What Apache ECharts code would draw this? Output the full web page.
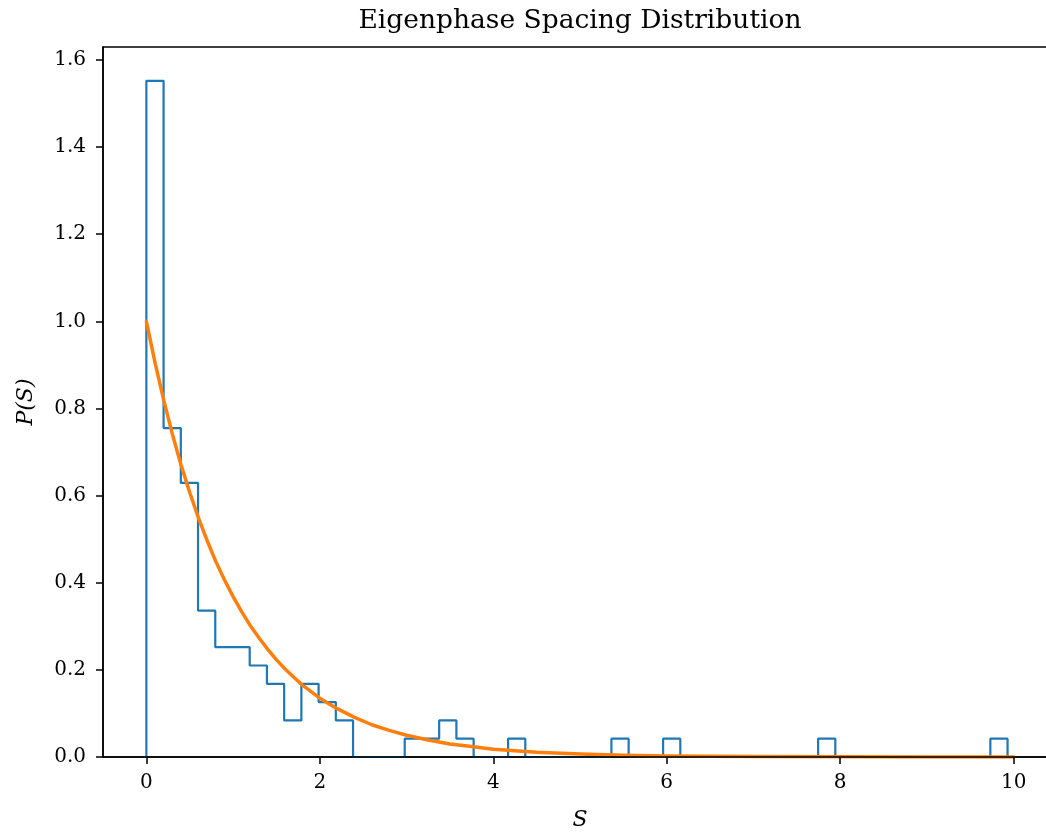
<!DOCTYPE html>
<html>
<head>
<meta charset="utf-8">
<script src="https://cdn.jsdelivr.net/npm/echarts@6/dist/echarts.min.js"></script>
<style>
html,body{margin:0;padding:0;background:#fff;overflow:hidden;}
#chart{width:1046px;height:833px;}
</style>
</head>
<body>
<div id="chart"></div>
<script>
// Histogram bin edges (S) and densities P(S)
const binEdges = [0, 0.1986, 0.3972, 0.5958, 0.7944, 0.993, 1.1916, 1.3902, 1.5888, 1.7874,
  1.986, 2.1846, 2.3832, 2.5818, 2.7804, 2.979, 3.1776, 3.3762, 3.5748, 3.7734,
  3.972, 4.1706, 4.3692, 4.5678, 4.7664, 4.965, 5.1636, 5.3622, 5.5608, 5.7594,
  5.958, 6.1566, 6.3552, 6.5538, 6.7524, 6.951, 7.1496, 7.3482, 7.5468, 7.7454,
  7.944, 8.1426, 8.3412, 8.5398, 8.7384, 8.937, 9.1356, 9.3342, 9.5328, 9.7314, 9.93];
const histDensity = [1.552, 0.755, 0.629, 0.336, 0.252, 0.252, 0.210, 0.168, 0.084, 0.168,
  0.126, 0.084, 0, 0, 0, 0.042, 0.042, 0.084, 0.042, 0,
  0, 0.042, 0, 0, 0, 0, 0, 0.042, 0, 0,
  0.042, 0, 0, 0, 0, 0, 0, 0, 0, 0.042,
  0, 0, 0, 0, 0, 0, 0, 0, 0, 0.042];
// Poisson reference curve samples
const curveS = [0, 0.1, 0.2, 0.3, 0.4, 0.5, 0.6, 0.7, 0.8, 0.9, 1.0, 1.1, 1.2, 1.3, 1.4, 1.5, 1.6, 1.7, 1.8, 1.9,
  2.0, 2.2, 2.4, 2.6, 2.8, 3.0, 3.25, 3.5, 3.75, 4.0, 4.5, 5.0, 5.5, 6.0, 7.0, 8.0, 9.0, 10.0];
const curveP = [1.000, 0.905, 0.819, 0.741, 0.670, 0.607, 0.549, 0.497, 0.449, 0.407, 0.368, 0.333, 0.301, 0.273, 0.247, 0.223, 0.202, 0.183, 0.165, 0.150,
  0.135, 0.111, 0.091, 0.074, 0.061, 0.050, 0.039, 0.030, 0.024, 0.018, 0.011, 0.007, 0.004, 0.0025, 0.0009, 0.0003, 0.0001, 0.00005];
// Tick values
const xTicks = [0, 2, 4, 6, 8, 10];
const yTicks = [0, 0.2, 0.4, 0.6, 0.8, 1.0, 1.2, 1.4, 1.6];

const stepPts = [[binEdges[0], 0]];
for (let i = 0; i < histDensity.length; i++) {
  stepPts.push([binEdges[i], histDensity[i]]);
  stepPts.push([binEdges[i + 1], histDensity[i]]);
}
stepPts.push([binEdges[binEdges.length - 1], 0]);
const curvePts = curveS.map((s, i) => [s, curveP[i]]);

const FONT = 'DejaVu Serif';
const chart = echarts.init(document.getElementById('chart'));
chart.setOption({
  animation: false,
  backgroundColor: '#fff',
  graphic: [{
    type: 'text', x: 580, y: 8,
    style: { text: 'Eigenphase Spacing Distribution', fill: '#000', font: '26.5px "DejaVu Serif"', textAlign: 'center', textVerticalAlign: 'top' }
  }],
  grid: { left: 103, top: 47, width: 954, bottom: 76, outerBoundsMode: 'none', containLabel: false,
    show: true, borderColor: '#000', borderWidth: 1.5, backgroundColor: 'transparent' },
  xAxis: {
    type: 'value', min: -0.5, max: 10.5, z: 5,
    name: 'S', nameLocation: 'middle', nameGap: 52,
    nameTextStyle: { fontFamily: FONT, fontStyle: 'italic', fontSize: 22, color: '#000' },
    axisLine: { show: true, onZero: false, lineStyle: { color: '#000', width: 1.5 } },
    axisTick: { show: true, length: 7, lineStyle: { color: '#000', width: 1.5 }, customValues: xTicks },
    axisLabel: { fontFamily: FONT, fontSize: 20, color: '#000', margin: 16, customValues: xTicks, formatter: v => String(v) },
    splitLine: { show: false }
  },
  yAxis: {
    type: 'value', min: 0, max: 1.6296, z: 5,
    name: 'P(S)', nameLocation: 'middle', nameGap: 66, nameRotate: 90,
    nameTextStyle: { fontFamily: FONT, fontStyle: 'italic', fontSize: 22, color: '#000' },
    axisLine: { show: true, onZero: false, lineStyle: { color: '#000', width: 1.5 } },
    axisTick: { show: true, length: 7, lineStyle: { color: '#000', width: 1.5 }, customValues: yTicks },
    axisLabel: { fontFamily: FONT, fontSize: 20, color: '#000', margin: 17, customValues: yTicks, formatter: v => v.toFixed(1) },
    splitLine: { show: false }
  },
  series: [
    {
      type: 'line', data: stepPts, showSymbol: false, symbol: 'none',
      lineStyle: { color: '#1f77b4', width: 2.2 }, z: 2
    },
    {
      type: 'line', data: curvePts, showSymbol: false, symbol: 'none', smooth: false,
      lineStyle: { color: '#ff7f0e', width: 3.5, join: 'round', cap: 'round' }, z: 3
    }
  ]
});
</script>
</body>
</html>
